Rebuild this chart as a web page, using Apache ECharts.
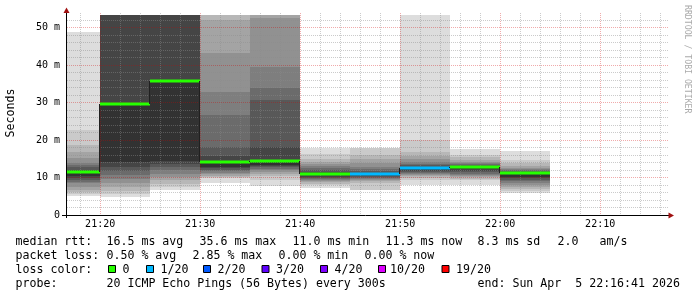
<!DOCTYPE html>
<html><head><meta charset="utf-8">
<script src="https://cdn.jsdelivr.net/npm/echarts@6/dist/echarts.min.js"></script>
<style>html,body{margin:0;padding:0;background:#fff}#c{width:697px;height:297px}</style>
</head><body><div id="c"></div>
<script>
// ---- data ----
const stepEnds = ['21:20','21:25','21:30','21:35','21:40','21:45','21:50','21:55','22:00','22:05'];
const stepSeconds = 300;
const medians = [11.4, 29.6, 35.6, 14.1, 14.5, 11.0, 11.0, 12.6, 12.9, 11.3];
const lossCounts = [0, 0, 0, 0, 0, 0, 1, 1, 0, 0];
// sorted ping round-trip times (ms), 20 pings per step; 54 = above the top of the chart, null = lost
const pings2120 = [5.1, 5.5, 6.0, 6.7, 7.5, 8.4, 8.8, 9.3, 9.8, 10.4, 11.4, 12.0, 12.9, 13.3, 13.8, 15.2, 16.9, 18.7, 22.7, 48.9];
const pings2125 = [4.8, 5.6, 6.5, 7.5, 8.6, 9.5, 10.7, 11.8, 12.9, 14.2, 29.6, 54, 54, 54, 54, 54, 54, 54, 54, 54];
const pings2130 = [6.6, 7.4, 8.3, 9.2, 10.1, 11.0, 11.9, 12.8, 13.7, 14.5, 35.6, 54, 54, 54, 54, 54, 54, 54, 54, 54];
const pings2135 = [8.4, 9.8, 10.2, 10.5, 10.8, 11.2, 11.6, 12.1, 12.5, 12.9, 14.1, 15.6, 18.2, 26.7, 32.9, 43.1, 52.0, 54, 54, 54];
const pings2140 = [7.8, 9.2, 10.4, 11.0, 11.5, 11.9, 12.3, 12.7, 13.0, 13.4, 14.5, 18.2, 30.7, 33.8, 39.5, 52.4, 54, 54, 54, 54];
const pings2145 = [7.3, 7.9, 8.3, 8.7, 9.0, 9.3, 9.6, 9.9, 10.2, 10.6, 11.0, 11.5, 12.0, 12.5, 13.1, 13.5, 14.2, 15.0, 16.2, 17.8];
const pings2150 = [6.7, 6.7, 8.6, 9.0, 9.3, 9.6, 9.9, 10.2, 10.5, 10.7, 11.0, 11.3, 11.7, 12.2, 12.9, 13.8, 14.9, 16.0, 17.8, null];
const pings2155 = [7.9, 9.3, 9.9, 10.3, 10.6, 10.9, 11.2, 11.5, 11.8, 12.1, 12.6, 12.9, 13.2, 13.6, 14.1, 14.8, 15.7, 16.9, 20.0, 54];
const pings2200 = [8.0, 9.3, 9.7, 10.0, 10.3, 10.7, 11.0, 11.4, 11.8, 12.2, 12.9, 13.1, 13.3, 13.5, 13.8, 14.1, 14.7, 15.4, 16.0, 17.5];
const pings2205 = [5.8, 6.4, 7.0, 7.5, 8.0, 8.5, 9.0, 9.4, 9.8, 10.2, 11.3, 11.5, 11.8, 12.0, 12.2, 12.5, 13.1, 13.8, 14.7, 17.1];
const axisStart = '21:16:41';
const axisEnd = '22:16:41';
const yMax = 53.33;
const timeTicks = ['21:20', '21:30', '21:40', '21:50', '22:00', '22:10'];
const msTicks = [0, 10, 20, 30, 40, 50];
const minorTimeStep = 120;   // s
const minorMsStep = 2;       // ms
const lossLevels = [0, 1, 2, 3, 4, 10, 19];
const lossLabels = ['0', '1/20', '2/20', '3/20', '4/20', '10/20', '19/20'];
const lossColors = ['#26ff00', '#00b8ff', '#0059ff', '#5e00ff', '#7e00ff', '#dd00ff', '#ff0000'];
const statsRtt = ['median rtt:', '16.5 ms avg', '35.6 ms max', '11.0 ms min', '11.3 ms now', '8.3 ms sd', '2.0', 'am/s'];
const statsLoss = ['packet loss:', '0.50 % avg', '2.85 % max', '0.00 % min', '0.00 % now'];
const probeText = ['probe:', '20 ICMP Echo Pings (56 Bytes) every 300s', 'end: Sun Apr  5 22:16:41 2026'];
const yTitle = 'Seconds';
const watermark = 'RRDTOOL / TOBI OETIKER';

// ---- build ----
function toSec(s){ const p = s.split(':').map(Number); return p[0]*3600 + p[1]*60 + (p[2]||0); }
const pingSets = [pings2120, pings2125, pings2130, pings2135, pings2140, pings2145, pings2150, pings2155, pings2200, pings2205];
const xMin = toSec(axisStart), xMax = toSec(axisEnd);

const smokeData = [];
pingSets.forEach((p, i) => {
  const end = toSec(stepEnds[i]), start = end - stepSeconds;
  for (let ibot = 0; ibot < 10; ibot++) {
    const lo = p[ibot], hi = p[19 - ibot];
    if (lo == null || hi == null) continue;
    const gray = Math.floor(190 / 10 * (10 - (ibot + 1))) + 50;
    smokeData.push([start, end, lo, hi, gray]);
  }
});
function lossColorIndex(l){ let k = 0; lossLevels.forEach((lv, j) => { if (l >= lv) k = j; }); return k; }
const medianData = medians.map((m, i) => {
  const end = toSec(stepEnds[i]);
  return [end - stepSeconds, end, m, i > 0 ? medians[i-1] : NaN, lossColorIndex(lossCounts[i])];
});
const gridData = [];
const majorT = timeTicks.map(toSec);
for (let t = Math.ceil(xMin / minorTimeStep) * minorTimeStep; t <= xMax; t += minorTimeStep) {
  gridData.push([0, t, majorT.includes(t) ? 1 : 0]);
}
for (let v = minorMsStep; v < yMax; v += minorMsStep) {
  gridData.push([1, v, msTicks.includes(v) ? 1 : 0]);
}

function renderSmoke(params, api){
  const cs = params.coordSys;
  const a = api.coord([api.value(0), api.value(3)]);
  const b = api.coord([api.value(1), api.value(2)]);
  const x1 = Math.round(Math.max(a[0], cs.x)), x2 = Math.round(Math.min(b[0], cs.x + cs.width));
  const y1 = Math.round(Math.max(a[1], cs.y)), y2 = Math.round(Math.min(b[1], cs.y + cs.height));
  if (x2 <= x1 || y2 <= y1) return {type: 'group', children: []};
  const g = api.value(4);
  return {type: 'rect', shape: {x: x1, y: y1, width: x2 - x1, height: y2 - y1},
          style: {fill: 'rgb(' + g + ',' + g + ',' + g + ')'}};
}
function renderGrid(params, api){
  const cs = params.coordSys;
  const dir = api.value(0), v = api.value(1), major = api.value(2);
  const stroke = major ? 'rgba(210,0,0,0.33)' : 'rgba(140,140,140,0.45)';
  let shape;
  if (dir === 0) {
    const x = Math.round(api.coord([v, 0])[0]) + 0.5;
    shape = {x1: x, y1: cs.y - 2, x2: x, y2: cs.y + cs.height};
  } else {
    const y = Math.round(api.coord([xMin, v])[1]) + 0.5;
    shape = {x1: cs.x, y1: y, x2: cs.x + cs.width + 1, y2: y};
  }
  return {type: 'line', shape: shape, style: {stroke: stroke, lineWidth: 1, lineDash: [1, 1]}};
}
function renderMedian(params, api){
  const cs = params.coordSys;
  const s = api.coord([api.value(0), api.value(2)]);
  const e = api.coord([api.value(1), api.value(2)]);
  const x1 = Math.round(Math.max(s[0], cs.x)), x2 = Math.round(e[0]);
  const y = Math.round(s[1]);
  const children = [];
  const prev = api.value(3);
  if (!isNaN(prev)) {
    const py = Math.round(api.coord([api.value(0), prev])[1]);
    children.push({type: 'line', shape: {x1: x1 - 0.5, y1: py, x2: x1 - 0.5, y2: y}, style: {stroke: '#202020', lineWidth: 1}});
  }
  children.push({type: 'line', shape: {x1: x1, y1: y, x2: x2, y2: y},
                 style: {stroke: lossColors[api.value(4)], lineWidth: 3}});
  return {type: 'group', children: children};
}

const MONO = "'DejaVu Sans Mono', monospace";
const LF = "11.6px " + MONO;
function txt(t, x, y, extra){ return Object.assign({type: 'text', x: x, y: y, silent: true,
  style: {text: t, font: LF, fill: '#000', align: 'left', verticalAlign: 'middle', textAlign: 'left', textVerticalAlign: 'middle'}}, extra || {}); }

const graphics = [];
// axes with arrows
graphics.push({type: 'line', shape: {x1: 66.5, y1: 218, x2: 66.5, y2: 11}, style: {stroke: '#000', lineWidth: 1}, z: 10});
graphics.push({type: 'line', shape: {x1: 62, y1: 215.5, x2: 669, y2: 215.5}, style: {stroke: '#000', lineWidth: 1}, z: 10});
graphics.push({type: 'polygon', shape: {points: [[66.5, 7.5], [63.5, 13], [69.5, 13]]}, style: {fill: '#a01010'}, z: 11});
graphics.push({type: 'polygon', shape: {points: [[674, 215.5], [668.5, 212.5], [668.5, 218.5]]}, style: {fill: '#a01010'}, z: 11});
// titles
graphics.push(txt(yTitle, 11, 113, {rotation: Math.PI / 2, style: {text: yTitle, font: LF, fill: '#000', align: 'center', verticalAlign: 'middle', textAlign: 'center', textVerticalAlign: 'middle'}}));
graphics.push(txt(watermark, 687.5, 5, {rotation: -Math.PI / 2, style: {text: watermark, font: "8.2px " + MONO, fill: '#aaa', align: 'left', verticalAlign: 'middle', textAlign: 'left', textVerticalAlign: 'middle'}}));
// legend lines
const L1 = 241.5, L2 = 255.5, L3 = 269.5, L4 = 283.5;
const rttX = [15.5, 106.5, 199.5, 292.5, 385.5, 477.5, 557.5, 599.5];
statsRtt.forEach((t, i) => graphics.push(txt(t, rttX[i], L1)));
const lossX = [15.5, 106.5, 192.5, 278.5, 364.5];
statsLoss.forEach((t, i) => graphics.push(txt(t, lossX[i], L2)));
graphics.push(txt('loss color:', 15.5, L3));
const sqX = [108.5, 146.5, 203.5, 262, 320.5, 378.5, 442];
const lblX = [122.5, 160.5, 217.5, 276, 334.5, 390, 456];
lossLabels.forEach((t, i) => {
  graphics.push({type: 'rect', shape: {x: sqX[i], y: 265.5, width: 7, height: 7}, style: {fill: lossColors[i], stroke: '#000', lineWidth: 1}});
  graphics.push(txt(t, lblX[i], L3));
});
const probeX = [15.5, 106.5, 477.5];
probeText.forEach((t, i) => graphics.push(txt(t, probeX[i], L4)));

const chart = echarts.init(document.getElementById('c'), null, {renderer: 'canvas'});
chart.setOption({
  animation: false,
  backgroundColor: '#fff',
  grid: {left: 67, right: 30, top: 15, bottom: 82, containLabel: false},
  xAxis: {
    type: 'value', min: xMin, max: xMax,
    axisLine: {show: false}, axisTick: {show: false}, splitLine: {show: false},
    axisLabel: {
      customValues: majorT, margin: 4, color: '#000', fontSize: 10, fontFamily: MONO,
      formatter: v => { const h = Math.floor(v / 3600), m = Math.floor((v % 3600) / 60); return h + ':' + String(m).padStart(2, '0'); }
    }
  },
  yAxis: {
    type: 'value', min: 0, max: yMax,
    axisLine: {show: false}, axisTick: {show: false}, splitLine: {show: false},
    axisLabel: {customValues: msTicks, margin: 7, color: '#000', fontSize: 10, fontFamily: MONO,
      formatter: v => v === 0 ? '0' : v + ' m'}
  },
  series: [
    {type: 'custom', name: 'smoke', renderItem: renderSmoke, data: smokeData, silent: true, z: 2},
    {type: 'custom', name: 'grid', renderItem: renderGrid, data: gridData, silent: true, z: 3},
    {type: 'custom', name: 'median', renderItem: renderMedian, data: medianData, silent: true, z: 4}
  ],
  graphic: {elements: graphics}
});
</script></body></html>
